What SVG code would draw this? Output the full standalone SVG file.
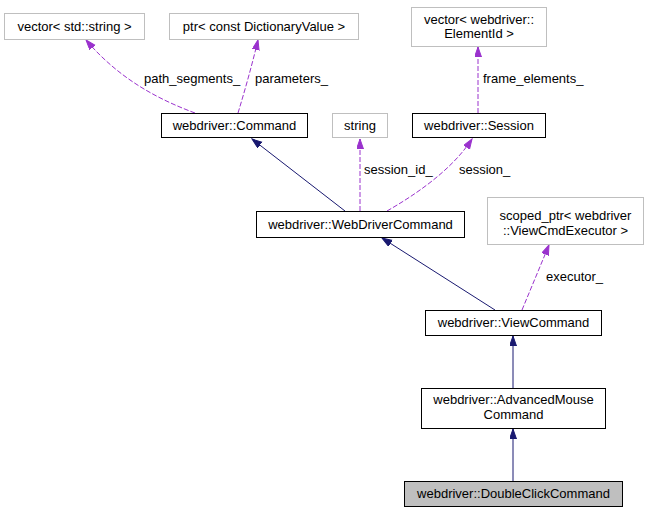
<svg xmlns="http://www.w3.org/2000/svg" width="648" height="512" viewBox="0 0 648 512">
<style>
text{font-family:"Liberation Sans",Arial,sans-serif;font-size:13px;fill:#000}
.n text{text-anchor:middle}
.cls{fill:#fff;stroke:#000;stroke-width:1}
.ext{fill:#fff;stroke:#bfbfbf;stroke-width:1}
.cur{fill:#bfbfbf;stroke:#000;stroke-width:1}
.inh{fill:none;stroke:#191970;stroke-width:1;marker-end:url(#an)}
.use{fill:none;stroke:#9a32cd;stroke-width:1;stroke-dasharray:5,2;marker-end:url(#ap)}
</style>
<defs>
<marker id="an" markerUnits="userSpaceOnUse" markerWidth="11" markerHeight="8" refX="10" refY="3.5" orient="auto"><path d="M0,0 L10,3.5 L0,7 z" fill="#191970" stroke="#191970"/></marker>
<marker id="ap" markerUnits="userSpaceOnUse" markerWidth="11" markerHeight="8" refX="10" refY="3.5" orient="auto"><path d="M0,0 L10,3.5 L0,7 z" fill="#9a32cd" stroke="#9a32cd"/></marker>
</defs>
<rect width="648" height="512" fill="#fff"/>
<g id="connectors">
<path class="inh" d="M345,211 L252,139"/>
<path class="use" d="M360,211 L360,139"/>
<path class="use" d="M387,211 C415,195 452,170 472,139"/>
<path class="inh" d="M495,310 L382,238"/>
<path class="use" d="M522,310 L549,245"/>
<path class="inh" d="M513,388 L513,336"/>
<path class="inh" d="M513,481 L513,429"/>
<path class="use" d="M195,113 C160,100 120,80 86,40"/>
<path class="use" d="M238,113 C245,90 252,65 258,40"/>
<path class="use" d="M478,113 L478,47"/>
<text x="144" y="83">path_segments_</text>
<text x="255" y="83">parameters_</text>
<text x="483" y="83">frame_elements_</text>
<text x="364" y="174">session_id_</text>
<text x="459" y="174">session_</text>
<text x="546" y="281">executor_</text>
</g>
<g id="vec_string" class="n"><rect class="ext" x="4.5" y="13.5" width="140" height="26"/><text x="74.5" y="30.5">vector&lt; std::string &gt;</text></g>
<g id="ptr_dict" class="n"><rect class="ext" x="169.5" y="13.5" width="189" height="26"/><text x="264" y="30.5">ptr&lt; const DictionaryValue &gt;</text></g>
<g id="vec_elem" class="n"><rect class="ext" x="411.5" y="7.5" width="135" height="39"/><text x="479" y="24">vector&lt; webdriver::</text><text x="479" y="38">ElementId &gt;</text></g>
<g id="command" class="n"><rect class="cls" x="161.5" y="113.5" width="146" height="24"/><text x="234.5" y="129.5">webdriver::Command</text></g>
<g id="string" class="n"><rect class="ext" x="332.5" y="113.5" width="55" height="24"/><text x="360" y="129.5">string</text></g>
<g id="session" class="n"><rect class="cls" x="412.5" y="113.5" width="133" height="24"/><text x="479" y="129.5">webdriver::Session</text></g>
<g id="wdcommand" class="n"><rect class="cls" x="256.5" y="211.5" width="208" height="26"/><text x="360.5" y="228.5">webdriver::WebDriverCommand</text></g>
<g id="scoped_ptr" class="n"><rect class="ext" x="487.5" y="197.5" width="156" height="47"/><text x="565.5" y="220">scoped_ptr&lt; webdriver</text><text x="565.5" y="235">::ViewCmdExecutor &gt;</text></g>
<g id="viewcommand" class="n"><rect class="cls" x="425.5" y="310.5" width="176" height="25"/><text x="513.5" y="327">webdriver::ViewCommand</text></g>
<g id="advmouse" class="n"><rect class="cls" x="421.5" y="388.5" width="184" height="40"/><text x="513.5" y="404">webdriver::AdvancedMouse</text><text x="513.5" y="418.5">Command</text></g>
<g id="doubleclick" class="n"><rect class="cur" x="404.5" y="481.5" width="218" height="25"/><text x="513.5" y="498">webdriver::DoubleClickCommand</text></g>
</svg>
